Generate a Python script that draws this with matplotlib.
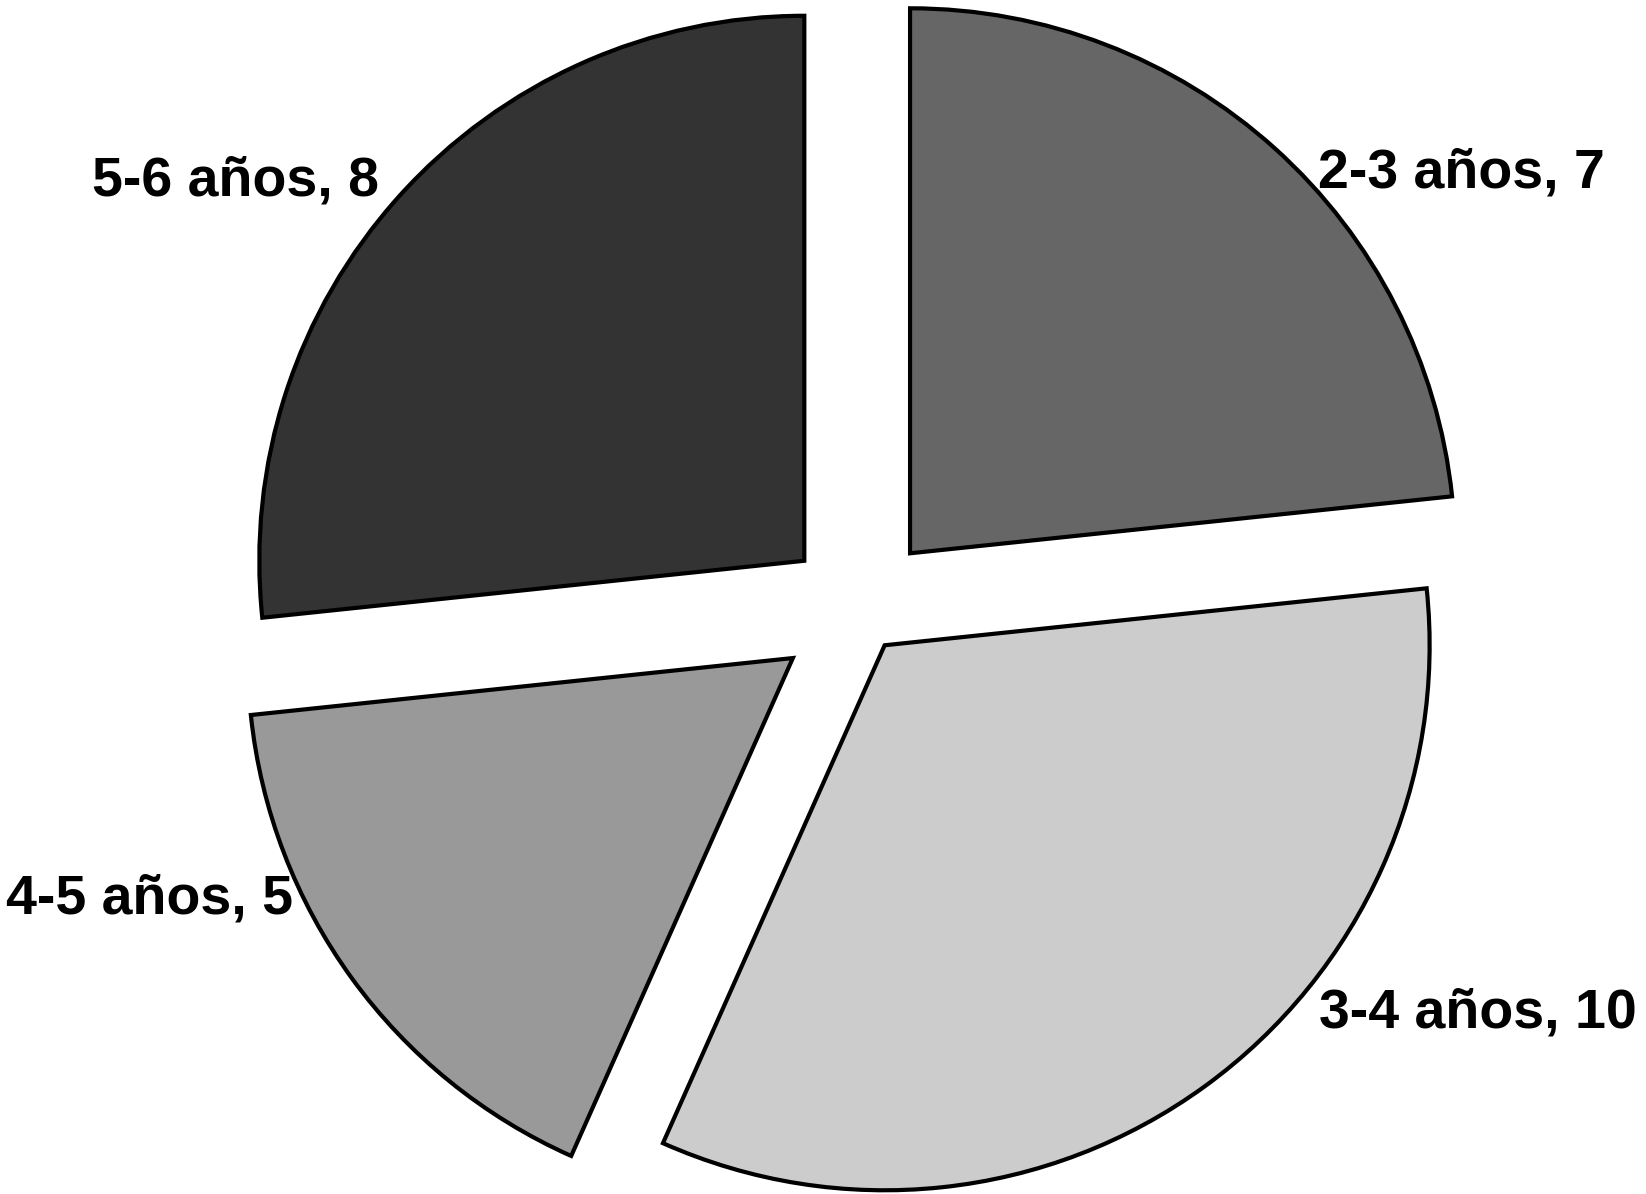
import matplotlib
matplotlib.use("Agg")
import matplotlib.pyplot as plt

# Data
categories = ["2-3 años", "3-4 años", "4-5 años", "5-6 años"]
values = [7, 10, 5, 8]
colors = ["#666666", "#cccccc", "#999999", "#333333"]
explode = [0.14, 0.08, 0.15, 0.135]

W, H = 1646, 1194
fig = plt.figure(figsize=(W / 100, H / 100), dpi=100)
ax = fig.add_axes([0, 0, 1, 1])

ax.pie(values, colors=colors, explode=explode, startangle=90, counterclock=False,
       radius=1.0, wedgeprops=dict(edgecolor="black", linewidth=3.0, joinstyle="miter"))

# pixel mapping: centre and radius in pixels
cx, cy, R = 859, 610, 545
ax.set_aspect("auto")
ax.set_xlim(-cx / R, (W - cx) / R)
ax.set_ylim(-(H - cy) / R, cy / R)
ax.axis("off")

# label positions (pixel centres)
label_pos = [(1461, 173), (1478, 1013), (149, 899), (236, 181)]
for cat, val, (px, py) in zip(categories, values, label_pos):
    ax.text((px - cx) / R, (cy - py) / R, f"{cat}, {val}",
            ha="center", va="center", fontsize=40, fontweight="bold",
            family=["Liberation Sans", "DejaVu Sans"])

fig.savefig("out.png", dpi=100, facecolor="white")
